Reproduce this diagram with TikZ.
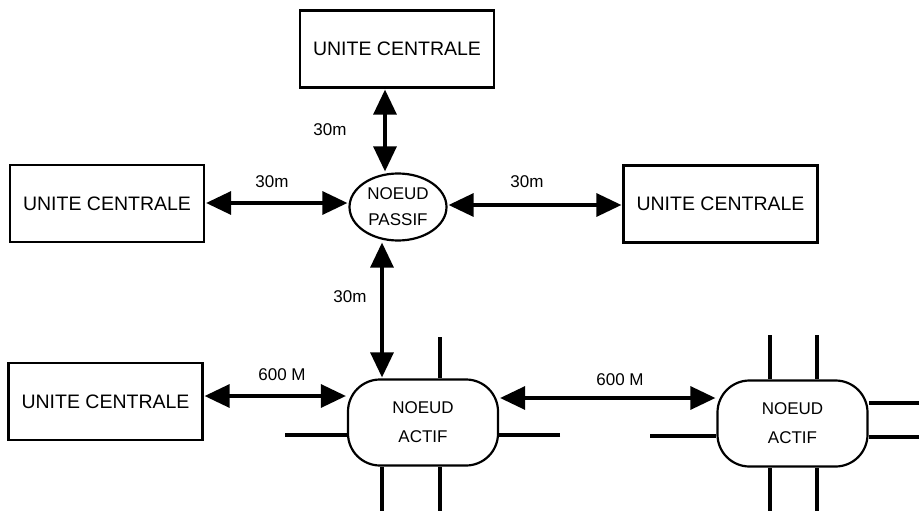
\documentclass[tikz,border=0pt]{standalone}
\usepackage{fontspec}
\setmainfont{Liberation Sans}
\usetikzlibrary{arrows.meta,shapes.geometric,calc}
\begin{document}
\begin{tikzpicture}[x=1pt,y=-1pt,
  ucbox/.style={draw,line width=2.2pt,minimum width=194pt,minimum height=77pt,inner sep=0pt,font=\fontsize{19.5}{22}\selectfont},
  passnode/.style={draw,ellipse,line width=2.2pt,minimum width=97pt,minimum height=67pt,inner sep=0pt,align=center,font=\fontsize{17}{26}\selectfont},
  actnode/.style={draw,rectangle,rounded corners=32pt,line width=2.2pt,minimum width=150pt,minimum height=86pt,inner sep=0pt,align=center,font=\fontsize{17}{29}\selectfont},
  arr/.style={line width=3.2pt,{Triangle[length=25pt,width=23pt]}-{Triangle[length=25pt,width=23pt]},shorten <=1pt,shorten >=1pt},
  stub/.style={line width=3.2pt},
  lab/.style={font=\fontsize{17}{19}\selectfont}]
\useasboundingbox (0,0) rectangle (919,511);
% boxes
\node[ucbox] (top) at (397,49) {UNITE CENTRALE};
\node[ucbox] (left) at (107,203.5) {UNITE CENTRALE};
\node[ucbox] (right) at (720.5,204) {UNITE CENTRALE};
\node[ucbox] (bl) at (105.5,401.5) {UNITE CENTRALE};
\node[passnode] (pass) at (398,207) {NOEUD\\PASSIF};
\node[actnode] (a1) at (423,422.5) {NOEUD\\ACTIF};
\node[actnode] (a2) at (792.5,423.5) {NOEUD\\ACTIF};
% arrows
\draw[arr] ([xshift=-12pt]top.south) -- ([xshift=-13pt]pass.north);
\draw[arr] (left.east |- 0,203) -- (pass.west |- 0,203);
\draw[arr] (pass.east |- 0,205) -- (right.west |- 0,205);
\draw[arr] ([xshift=-16pt]pass.south) -- (a1.north -| 382,0);
\draw[arr] (bl.east |- 0,396) -- (a1.west |- 0,396);
\draw[arr] (a1.east |- 0,398) -- (a2.west |- 0,398);
% stubs node 1
\coordinate (s1) at (440,337);
\coordinate (s2) at (285,435);
\coordinate (s3) at (560,435);
\coordinate (s4) at (382,511);
\coordinate (s5) at (440,511);
\draw[stub] (s1) -- (a1.north -| s1);
\draw[stub] (s2) -- (a1.west |- s2);
\draw[stub] (s3) -- (a1.east |- s3);
\draw[stub] (s4) -- (a1.south -| s4);
\draw[stub] (s5) -- (a1.south -| s5);
% stubs node 2
\coordinate (t1) at (770,335);
\coordinate (t2) at (817,335);
\coordinate (t3) at (770,511);
\coordinate (t4) at (817,511);
\coordinate (t5) at (650,436);
\coordinate (t6) at (919,403);
\coordinate (t7) at (919,437);
\draw[stub] (t1) -- (a2.north -| t1);
\draw[stub] (t2) -- (a2.north -| t2);
\draw[stub] (t3) -- (a2.south -| t3);
\draw[stub] (t4) -- (a2.south -| t4);
\draw[stub] (t5) -- (a2.west |- t5);
\draw[stub] (t6) -- (a2.east |- t6);
\draw[stub] (t7) -- (a2.east |- t7);
% labels
\node[lab] (l1) at (330,130) {30m};
\node[lab] (l2) at (272,182) {30m};
\node[lab] (l3) at (527,182) {30m};
\node[lab] (l4) at (350,297) {30m};
\node[lab] (l5) at (282,375) {600 M};
\node[lab] (l6) at (620,380) {600 M};
\end{tikzpicture}
\end{document}
